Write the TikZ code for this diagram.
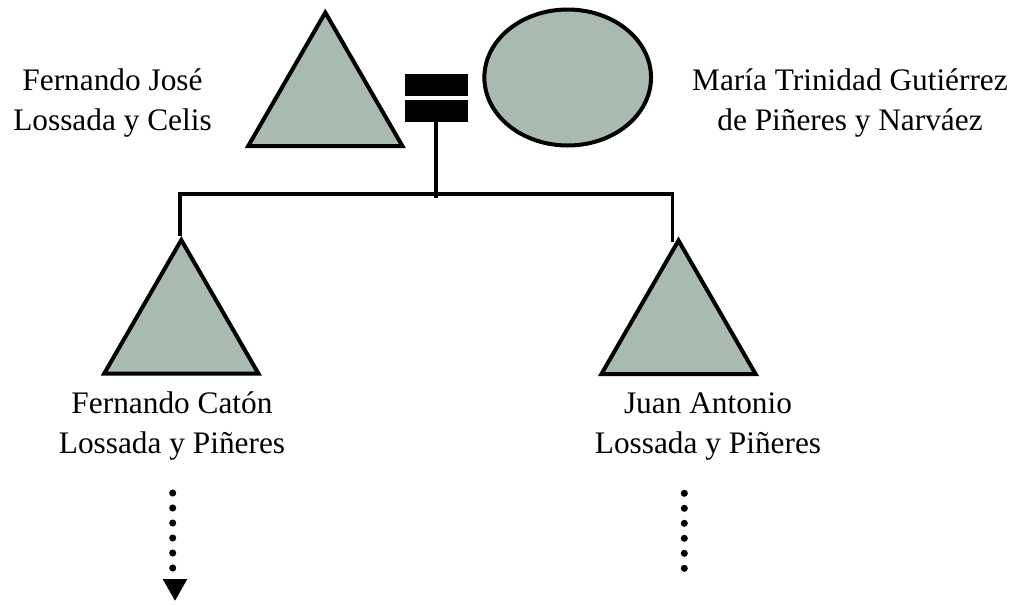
\documentclass[tikz,border=0pt]{standalone}
\usepackage{fontspec}
\setmainfont{Liberation Serif}
\usetikzlibrary{shapes.geometric}
\definecolor{sage}{RGB}{169,186,176}
\tikzset{
  x=0.75pt, y=-0.75pt,
  man/.style={regular polygon, regular polygon sides=3, minimum size=133.5pt, inner sep=0pt, outer sep=0pt, draw=black, fill=sage, line width=3pt},
  woman/.style={ellipse, minimum width=125pt, minimum height=102pt, inner sep=0pt, outer sep=0pt, draw=black, fill=sage, line width=3pt},
  eqbar/.style={rectangle, fill=black, minimum width=47pt, minimum height=16.3pt, inner sep=0pt, outer sep=0pt},
  kin/.style={line width=2.8pt},
  lbl/.style={anchor=base, inner sep=0pt, font=\fontsize{23.5}{28}\selectfont},
  dots/.style={line width=5.3pt, line cap=round, dash pattern=on 0pt off 11.25pt},
}
\begin{document}
\begin{tikzpicture}
\useasboundingbox (0,0) rectangle (1023,604);
% parents
\node[man] (father) at (325.3,101.5) {};
\node[woman] (mother) at (567.7,77.5) {};
\node[eqbar] (eqA) at (436.3,85) {};
\node[eqbar] (eqB) at (436.3,111) {};
% children
\node[man] (son1) at (181.3,329) {};
\node[man] (son2) at (678.5,329.5) {};
% connectors
\coordinate (jn) at (436.3,198);
\coordinate (lt) at (180,194);
\coordinate (rt) at (672.5,194);
\coordinate (lb) at (180,236);
\coordinate (rb) at (672.5,242);
\draw[kin] (eqB.south) -- (jn);
\draw[kin] (lb) -- (lt) -- (rt) -- (rb);
% labels
\node[lbl] (fj1) at (112.5,90) {Fernando José};
\node[lbl] (fj2) at (112.5,130.5) {Lossada y Celis};
\node[lbl] (mt1) at (850,90) {María Trinidad Gutiérrez};
\node[lbl] (mt2) at (850,130.5) {de Piñeres y Narváez};
\node[lbl] (fc1) at (172,413) {Fernando Catón};
\node[lbl] (fc2) at (172,453) {Lossada y Piñeres};
\node[lbl] (ja1) at (708,413) {Juan Antonio};
\node[lbl] (ja2) at (708,453) {Lossada y Piñeres};
% descent dots
\coordinate (d1a) at (172.7,493);
\coordinate (d1b) at (172.7,570);
\coordinate (d2a) at (684.3,493.3);
\coordinate (d2b) at (684.3,570);
\draw[dots] (d1a) -- (d1b);
\draw[dots] (d2a) -- (d2b);
\coordinate (tipL) at (162.7,579);
\coordinate (tipR) at (187.3,579);
\coordinate (tipB) at (175,600.7);
\fill (tipL) -- (tipR) -- (tipB) -- cycle;
\end{tikzpicture}
\end{document}
